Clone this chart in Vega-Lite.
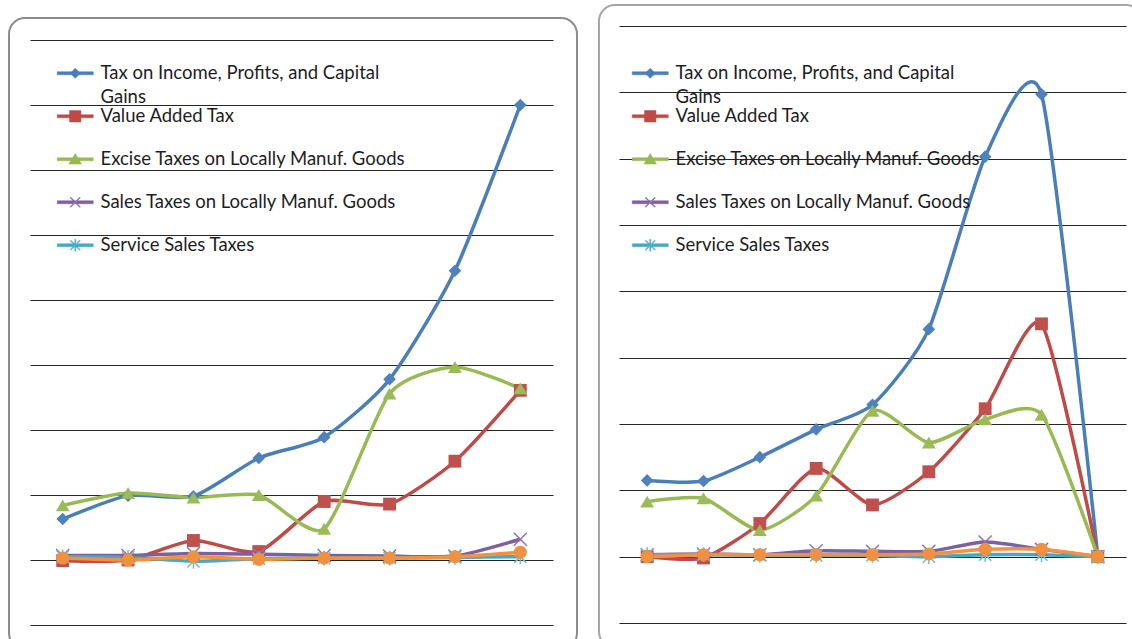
{
  "$schema": "https://vega.github.io/schema/vega-lite/v6.json",
  "padding": {"left": 8, "top": 4, "right": -10, "bottom": -10},
  "autosize": {"type": "pad"},
  "background": "white",
  "spacing": 20,
  "datasets": {
    "left": [
      {"series": "Tax on Income, Profits, and Capital Gains", "idx": 1, "value": 0.63},
      {"series": "Tax on Income, Profits, and Capital Gains", "idx": 2, "value": 0.99},
      {"series": "Tax on Income, Profits, and Capital Gains", "idx": 3, "value": 0.98},
      {"series": "Tax on Income, Profits, and Capital Gains", "idx": 4, "value": 1.57},
      {"series": "Tax on Income, Profits, and Capital Gains", "idx": 5, "value": 1.89},
      {"series": "Tax on Income, Profits, and Capital Gains", "idx": 6, "value": 2.78},
      {"series": "Tax on Income, Profits, and Capital Gains", "idx": 7, "value": 4.45},
      {"series": "Tax on Income, Profits, and Capital Gains", "idx": 8, "value": 7.0},
      {"series": "Value Added Tax", "idx": 1, "value": -0.01},
      {"series": "Value Added Tax", "idx": 2, "value": 0.0},
      {"series": "Value Added Tax", "idx": 3, "value": 0.3},
      {"series": "Value Added Tax", "idx": 4, "value": 0.13},
      {"series": "Value Added Tax", "idx": 5, "value": 0.9},
      {"series": "Value Added Tax", "idx": 6, "value": 0.86},
      {"series": "Value Added Tax", "idx": 7, "value": 1.52},
      {"series": "Value Added Tax", "idx": 8, "value": 2.61},
      {"series": "Excise Taxes on Locally Manuf. Goods", "idx": 1, "value": 0.84},
      {"series": "Excise Taxes on Locally Manuf. Goods", "idx": 2, "value": 1.03},
      {"series": "Excise Taxes on Locally Manuf. Goods", "idx": 3, "value": 0.96},
      {"series": "Excise Taxes on Locally Manuf. Goods", "idx": 4, "value": 1.0},
      {"series": "Excise Taxes on Locally Manuf. Goods", "idx": 5, "value": 0.48},
      {"series": "Excise Taxes on Locally Manuf. Goods", "idx": 6, "value": 2.56},
      {"series": "Excise Taxes on Locally Manuf. Goods", "idx": 7, "value": 2.97},
      {"series": "Excise Taxes on Locally Manuf. Goods", "idx": 8, "value": 2.64},
      {"series": "Sales Taxes on Locally Manuf. Goods", "idx": 1, "value": 0.07},
      {"series": "Sales Taxes on Locally Manuf. Goods", "idx": 2, "value": 0.07},
      {"series": "Sales Taxes on Locally Manuf. Goods", "idx": 3, "value": 0.1},
      {"series": "Sales Taxes on Locally Manuf. Goods", "idx": 4, "value": 0.09},
      {"series": "Sales Taxes on Locally Manuf. Goods", "idx": 5, "value": 0.07},
      {"series": "Sales Taxes on Locally Manuf. Goods", "idx": 6, "value": 0.06},
      {"series": "Sales Taxes on Locally Manuf. Goods", "idx": 7, "value": 0.06},
      {"series": "Sales Taxes on Locally Manuf. Goods", "idx": 8, "value": 0.32},
      {"series": "Service Sales Taxes", "idx": 1, "value": 0.05},
      {"series": "Service Sales Taxes", "idx": 2, "value": 0.04},
      {"series": "Service Sales Taxes", "idx": 3, "value": -0.02},
      {"series": "Service Sales Taxes", "idx": 4, "value": 0.02},
      {"series": "Service Sales Taxes", "idx": 5, "value": 0.03},
      {"series": "Service Sales Taxes", "idx": 6, "value": 0.03},
      {"series": "Service Sales Taxes", "idx": 7, "value": 0.04},
      {"series": "Service Sales Taxes", "idx": 8, "value": 0.05},
      {"series": "Other Taxes", "idx": 1, "value": 0.03},
      {"series": "Other Taxes", "idx": 2, "value": 0.0},
      {"series": "Other Taxes", "idx": 3, "value": 0.05},
      {"series": "Other Taxes", "idx": 4, "value": 0.01},
      {"series": "Other Taxes", "idx": 5, "value": 0.03},
      {"series": "Other Taxes", "idx": 6, "value": 0.03},
      {"series": "Other Taxes", "idx": 7, "value": 0.05},
      {"series": "Other Taxes", "idx": 8, "value": 0.12}
    ],
    "right": [
      {"series": "Tax on Income, Profits, and Capital Gains", "idx": 1, "value": 1.15},
      {"series": "Tax on Income, Profits, and Capital Gains", "idx": 2, "value": 1.14},
      {"series": "Tax on Income, Profits, and Capital Gains", "idx": 3, "value": 1.5},
      {"series": "Tax on Income, Profits, and Capital Gains", "idx": 4, "value": 1.92},
      {"series": "Tax on Income, Profits, and Capital Gains", "idx": 5, "value": 2.29},
      {"series": "Tax on Income, Profits, and Capital Gains", "idx": 6, "value": 3.43},
      {"series": "Tax on Income, Profits, and Capital Gains", "idx": 7, "value": 6.03},
      {"series": "Tax on Income, Profits, and Capital Gains", "idx": 8, "value": 6.97},
      {"series": "Tax on Income, Profits, and Capital Gains", "idx": 9, "value": 0.0},
      {"series": "Value Added Tax", "idx": 1, "value": 0.0},
      {"series": "Value Added Tax", "idx": 2, "value": -0.02},
      {"series": "Value Added Tax", "idx": 3, "value": 0.5},
      {"series": "Value Added Tax", "idx": 4, "value": 1.33},
      {"series": "Value Added Tax", "idx": 5, "value": 0.78},
      {"series": "Value Added Tax", "idx": 6, "value": 1.28},
      {"series": "Value Added Tax", "idx": 7, "value": 2.23},
      {"series": "Value Added Tax", "idx": 8, "value": 3.51},
      {"series": "Value Added Tax", "idx": 9, "value": 0.0},
      {"series": "Excise Taxes on Locally Manuf. Goods", "idx": 1, "value": 0.83},
      {"series": "Excise Taxes on Locally Manuf. Goods", "idx": 2, "value": 0.88},
      {"series": "Excise Taxes on Locally Manuf. Goods", "idx": 3, "value": 0.4},
      {"series": "Excise Taxes on Locally Manuf. Goods", "idx": 4, "value": 0.92},
      {"series": "Excise Taxes on Locally Manuf. Goods", "idx": 5, "value": 2.2},
      {"series": "Excise Taxes on Locally Manuf. Goods", "idx": 6, "value": 1.72},
      {"series": "Excise Taxes on Locally Manuf. Goods", "idx": 7, "value": 2.07},
      {"series": "Excise Taxes on Locally Manuf. Goods", "idx": 8, "value": 2.14},
      {"series": "Excise Taxes on Locally Manuf. Goods", "idx": 9, "value": 0.0},
      {"series": "Sales Taxes on Locally Manuf. Goods", "idx": 1, "value": 0.03},
      {"series": "Sales Taxes on Locally Manuf. Goods", "idx": 2, "value": 0.04},
      {"series": "Sales Taxes on Locally Manuf. Goods", "idx": 3, "value": 0.03},
      {"series": "Sales Taxes on Locally Manuf. Goods", "idx": 4, "value": 0.09},
      {"series": "Sales Taxes on Locally Manuf. Goods", "idx": 5, "value": 0.08},
      {"series": "Sales Taxes on Locally Manuf. Goods", "idx": 6, "value": 0.08},
      {"series": "Sales Taxes on Locally Manuf. Goods", "idx": 7, "value": 0.22},
      {"series": "Sales Taxes on Locally Manuf. Goods", "idx": 8, "value": 0.11},
      {"series": "Sales Taxes on Locally Manuf. Goods", "idx": 9, "value": 0.0},
      {"series": "Service Sales Taxes", "idx": 1, "value": 0.03},
      {"series": "Service Sales Taxes", "idx": 2, "value": 0.03},
      {"series": "Service Sales Taxes", "idx": 3, "value": 0.02},
      {"series": "Service Sales Taxes", "idx": 4, "value": 0.02},
      {"series": "Service Sales Taxes", "idx": 5, "value": 0.02},
      {"series": "Service Sales Taxes", "idx": 6, "value": 0.0},
      {"series": "Service Sales Taxes", "idx": 7, "value": 0.03},
      {"series": "Service Sales Taxes", "idx": 8, "value": 0.03},
      {"series": "Service Sales Taxes", "idx": 9, "value": 0.0},
      {"series": "Other Taxes", "idx": 1, "value": 0.0},
      {"series": "Other Taxes", "idx": 2, "value": 0.03},
      {"series": "Other Taxes", "idx": 3, "value": 0.03},
      {"series": "Other Taxes", "idx": 4, "value": 0.03},
      {"series": "Other Taxes", "idx": 5, "value": 0.03},
      {"series": "Other Taxes", "idx": 6, "value": 0.04},
      {"series": "Other Taxes", "idx": 7, "value": 0.11},
      {"series": "Other Taxes", "idx": 8, "value": 0.11},
      {"series": "Other Taxes", "idx": 9, "value": 0.0}
    ]
  },
  "hconcat": [
    {
      "spacing": 11,
      "resolve": {"scale": {"color": "independent"}, "legend": {"color": "independent"}},
      "vconcat": [
        {
          "width": 568,
          "height": 1,
          "view": {"stroke": null, "fill": null},
          "data": {"values": []},
          "mark": {"type": "point"},
          "encoding": {}
        },
        {
          "width": 568,
          "height": 631,
          "view": {"stroke": "#8c8c8c", "strokeWidth": 2, "cornerRadius": 16},
          "data": {"name": "left"},
          "encoding": {
            "x": {"field": "idx", "type": "quantitative", "scale": {"domain": [0.5, 8.5], "range": [21, 544], "nice": false, "zero": false}, "axis": null},
            "y": {"field": "value", "type": "quantitative", "scale": {"domain": [-1, 8], "range": [607, 22], "nice": false, "zero": false},
                  "axis": {"values": [-1, 0, 1, 2, 3, 4, 5, 6, 7, 8], "grid": true, "gridColor": "#262626", "gridWidth": 1, "domain": false, "ticks": false, "labels": false, "title": null}}
          },
          "layer": [
            {
              "mark": {"type": "line", "interpolate": "cardinal", "tension": 0.35, "strokeWidth": 3.5},
              "encoding": {
                "color": {"field": "series", "type": "nominal",
                  "scale": {"domain": ["Tax on Income, Profits, and Capital Gains", "Value Added Tax", "Excise Taxes on Locally Manuf. Goods", "Sales Taxes on Locally Manuf. Goods", "Service Sales Taxes", "Other Taxes"],
                            "range": ["#4A7EBB", "#BE4B48", "#98B954", "#7D60A0", "#46AAC5", "#F39140"]},
                  "legend": {
                    "orient": "none", "legendX": 57, "legendY": 46, "title": null,
                    "values": ["Tax on Income, Profits, and Capital Gains", "Value Added Tax", "Excise Taxes on Locally Manuf. Goods", "Sales Taxes on Locally Manuf. Goods", "Service Sales Taxes"],
                    "labelFont": "Lato", "labelFontSize": 18.5, "labelColor": "#1e1e1e", "labelLimit": 600,
                    "symbolSize": 144, "labelOffset": 16, "gridAlign": "all", "rowPadding": -4.5,
                    "labelExpr": "datum.value === 'Tax on Income, Profits, and Capital Gains' ? ['Tax on Income, Profits, and Capital', 'Gains'] : datum.label",
                    "encode": {
                      "symbols": {"update": {
                        "shape": {"signal": "datum.value === 'Tax on Income, Profits, and Capital Gains' ? 'M-3,-0.25L3,-0.25L3,0.25L-3,0.25ZM0,-0.85L0.85,0L0,0.85L-0.85,0Z' : datum.value === 'Value Added Tax' ? 'M-3,-0.25L3,-0.25L3,0.25L-3,0.25ZM-0.95,-0.95L0.95,-0.95L0.95,0.95L-0.95,0.95Z' : datum.value === 'Excise Taxes on Locally Manuf. Goods' ? 'M-3,-0.25L3,-0.25L3,0.25L-3,0.25ZM0,-0.95L1.05,0.8L-1.05,0.8Z' : datum.value === 'Sales Taxes on Locally Manuf. Goods' ? 'M-3,-0.25L3,-0.25L3,0.25L-3,0.25ZM-0.85,-0.74L-0.74,-0.85L0.85,0.74L0.74,0.85ZM0.85,-0.74L0.74,-0.85L-0.85,0.74L-0.74,0.85Z' : 'M-3,-0.25L3,-0.25L3,0.25L-3,0.25ZM-0.85,-0.74L-0.74,-0.85L0.85,0.74L0.74,0.85ZM0.85,-0.74L0.74,-0.85L-0.85,0.74L-0.74,0.85ZM-0.08,-1L0.08,-1L0.08,1L-0.08,1Z'"},
                        "fill": {"signal": "datum.value === 'Tax on Income, Profits, and Capital Gains' ? '#4A7EBB' : datum.value === 'Value Added Tax' ? '#BE4B48' : datum.value === 'Excise Taxes on Locally Manuf. Goods' ? '#98B954' : datum.value === 'Sales Taxes on Locally Manuf. Goods' ? '#7D60A0' : '#46AAC5'"},
                        "stroke": {"signal": "datum.value === 'Tax on Income, Profits, and Capital Gains' ? '#4A7EBB' : datum.value === 'Value Added Tax' ? '#BE4B48' : datum.value === 'Excise Taxes on Locally Manuf. Goods' ? '#98B954' : datum.value === 'Sales Taxes on Locally Manuf. Goods' ? '#7D60A0' : '#46AAC5'"},
                        "fillOpacity": {"value": 1},
                        "strokeWidth": {"value": 0.5},
                        "opacity": {"value": 1}
                      }},
                      "labels": {"update": {"baseline": {"value": "alphabetic"}, "dy": {"value": 6}, "lineHeight": {"value": 24}}}
                    }
                  }
                }
              }
            },
            {"transform": [{"filter": "datum.series === 'Tax on Income, Profits, and Capital Gains'"}],
             "mark": {"type": "point", "shape": "diamond", "filled": true, "opacity": 1, "size": 160, "color": "#4F81BD"}},
            {"transform": [{"filter": "datum.series === 'Value Added Tax'"}],
             "mark": {"type": "point", "shape": "square", "filled": true, "opacity": 1, "size": 165, "color": "#C0504D"}},
            {"transform": [{"filter": "datum.series === 'Excise Taxes on Locally Manuf. Goods'"}],
             "mark": {"type": "point", "shape": "triangle-up", "filled": true, "opacity": 1, "size": 190, "color": "#9BBB59"}},
            {"transform": [{"filter": "datum.series === 'Sales Taxes on Locally Manuf. Goods'"}],
             "mark": {"type": "point", "shape": "M-1,-1L1,1M1,-1L-1,1", "filled": false, "opacity": 1, "size": 170, "stroke": "#8C74AE", "strokeWidth": 1.5}},
            {"transform": [{"filter": "datum.series === 'Service Sales Taxes'"}],
             "mark": {"type": "point", "shape": "M-1,-1L1,1M1,-1L-1,1M0,-1.2L0,1.2", "filled": false, "opacity": 1, "size": 150, "stroke": "#6DBCD2", "strokeWidth": 1.5}},
            {"transform": [{"filter": "datum.series === 'Other Taxes'"}],
             "mark": {"type": "point", "shape": "circle", "filled": true, "opacity": 1, "size": 170, "color": "#F0913F"}}
          ]
        }
      ]
    },
    {
      "width": 543,
      "height": 643,
      "view": {"stroke": "#a6a6a6", "strokeWidth": 2, "cornerRadius": 16},
      "data": {"name": "right"},
      "encoding": {
        "x": {"field": "idx", "type": "quantitative", "scale": {"domain": [0.5, 9.5], "range": [20, 527], "nice": false, "zero": false}, "axis": null},
        "y": {"field": "value", "type": "quantitative", "scale": {"domain": [-1, 8], "range": [618, 21], "nice": false, "zero": false},
              "axis": {"values": [-1, 0, 1, 2, 3, 4, 5, 6, 7, 8], "grid": true, "gridColor": "#262626", "gridWidth": 1, "domain": false, "ticks": false, "labels": false, "title": null}}
      },
      "layer": [
        {
          "mark": {"type": "line", "interpolate": "cardinal", "tension": 0.35, "strokeWidth": 3.5},
          "encoding": {
            "color": {"field": "series", "type": "nominal",
              "scale": {"domain": ["Tax on Income, Profits, and Capital Gains", "Value Added Tax", "Excise Taxes on Locally Manuf. Goods", "Sales Taxes on Locally Manuf. Goods", "Service Sales Taxes", "Other Taxes"],
                        "range": ["#4A7EBB", "#BE4B48", "#98B954", "#7D60A0", "#46AAC5", "#F39140"]},
              "legend": {
                "orient": "none", "legendX": 42, "legendY": 59, "title": null,
                "values": ["Tax on Income, Profits, and Capital Gains", "Value Added Tax", "Excise Taxes on Locally Manuf. Goods", "Sales Taxes on Locally Manuf. Goods", "Service Sales Taxes"],
                "labelFont": "Lato", "labelFontSize": 18.5, "labelColor": "#1e1e1e", "labelLimit": 600,
                "symbolSize": 144, "labelOffset": 16, "gridAlign": "all", "rowPadding": -4.5,
                "labelExpr": "datum.value === 'Tax on Income, Profits, and Capital Gains' ? ['Tax on Income, Profits, and Capital', 'Gains'] : datum.label",
                "encode": {
                  "symbols": {"update": {
                    "shape": {"signal": "datum.value === 'Tax on Income, Profits, and Capital Gains' ? 'M-3,-0.25L3,-0.25L3,0.25L-3,0.25ZM0,-0.85L0.85,0L0,0.85L-0.85,0Z' : datum.value === 'Value Added Tax' ? 'M-3,-0.25L3,-0.25L3,0.25L-3,0.25ZM-0.95,-0.95L0.95,-0.95L0.95,0.95L-0.95,0.95Z' : datum.value === 'Excise Taxes on Locally Manuf. Goods' ? 'M-3,-0.25L3,-0.25L3,0.25L-3,0.25ZM0,-0.95L1.05,0.8L-1.05,0.8Z' : datum.value === 'Sales Taxes on Locally Manuf. Goods' ? 'M-3,-0.25L3,-0.25L3,0.25L-3,0.25ZM-0.85,-0.74L-0.74,-0.85L0.85,0.74L0.74,0.85ZM0.85,-0.74L0.74,-0.85L-0.85,0.74L-0.74,0.85Z' : 'M-3,-0.25L3,-0.25L3,0.25L-3,0.25ZM-0.85,-0.74L-0.74,-0.85L0.85,0.74L0.74,0.85ZM0.85,-0.74L0.74,-0.85L-0.85,0.74L-0.74,0.85ZM-0.08,-1L0.08,-1L0.08,1L-0.08,1Z'"},
                    "fill": {"signal": "datum.value === 'Tax on Income, Profits, and Capital Gains' ? '#4A7EBB' : datum.value === 'Value Added Tax' ? '#BE4B48' : datum.value === 'Excise Taxes on Locally Manuf. Goods' ? '#98B954' : datum.value === 'Sales Taxes on Locally Manuf. Goods' ? '#7D60A0' : '#46AAC5'"},
                    "stroke": {"signal": "datum.value === 'Tax on Income, Profits, and Capital Gains' ? '#4A7EBB' : datum.value === 'Value Added Tax' ? '#BE4B48' : datum.value === 'Excise Taxes on Locally Manuf. Goods' ? '#98B954' : datum.value === 'Sales Taxes on Locally Manuf. Goods' ? '#7D60A0' : '#46AAC5'"},
                    "fillOpacity": {"value": 1},
                    "strokeWidth": {"value": 0.5},
                    "opacity": {"value": 1}
                  }},
                  "labels": {"update": {"baseline": {"value": "alphabetic"}, "dy": {"value": 6}, "lineHeight": {"value": 24}}}
                }
              }
            }
          }
        },
        {"transform": [{"filter": "datum.series === 'Tax on Income, Profits, and Capital Gains'"}],
         "mark": {"type": "point", "shape": "diamond", "filled": true, "opacity": 1, "size": 160, "color": "#4F81BD"}},
        {"transform": [{"filter": "datum.series === 'Value Added Tax'"}],
         "mark": {"type": "point", "shape": "square", "filled": true, "opacity": 1, "size": 165, "color": "#C0504D"}},
        {"transform": [{"filter": "datum.series === 'Excise Taxes on Locally Manuf. Goods'"}],
         "mark": {"type": "point", "shape": "triangle-up", "filled": true, "opacity": 1, "size": 190, "color": "#9BBB59"}},
        {"transform": [{"filter": "datum.series === 'Sales Taxes on Locally Manuf. Goods'"}],
         "mark": {"type": "point", "shape": "M-1,-1L1,1M1,-1L-1,1", "filled": false, "opacity": 1, "size": 170, "stroke": "#8C74AE", "strokeWidth": 1.5}},
        {"transform": [{"filter": "datum.series === 'Service Sales Taxes'"}],
         "mark": {"type": "point", "shape": "M-1,-1L1,1M1,-1L-1,1M0,-1.2L0,1.2", "filled": false, "opacity": 1, "size": 150, "stroke": "#6DBCD2", "strokeWidth": 1.5}},
        {"transform": [{"filter": "datum.series === 'Other Taxes'"}],
         "mark": {"type": "point", "shape": "circle", "filled": true, "opacity": 1, "size": 170, "color": "#F0913F"}}
      ]
    }
  ],
  "resolve": {"scale": {"color": "independent"}, "legend": {"color": "independent"}},
  "config": {
    "font": "Lato"
  }
}
